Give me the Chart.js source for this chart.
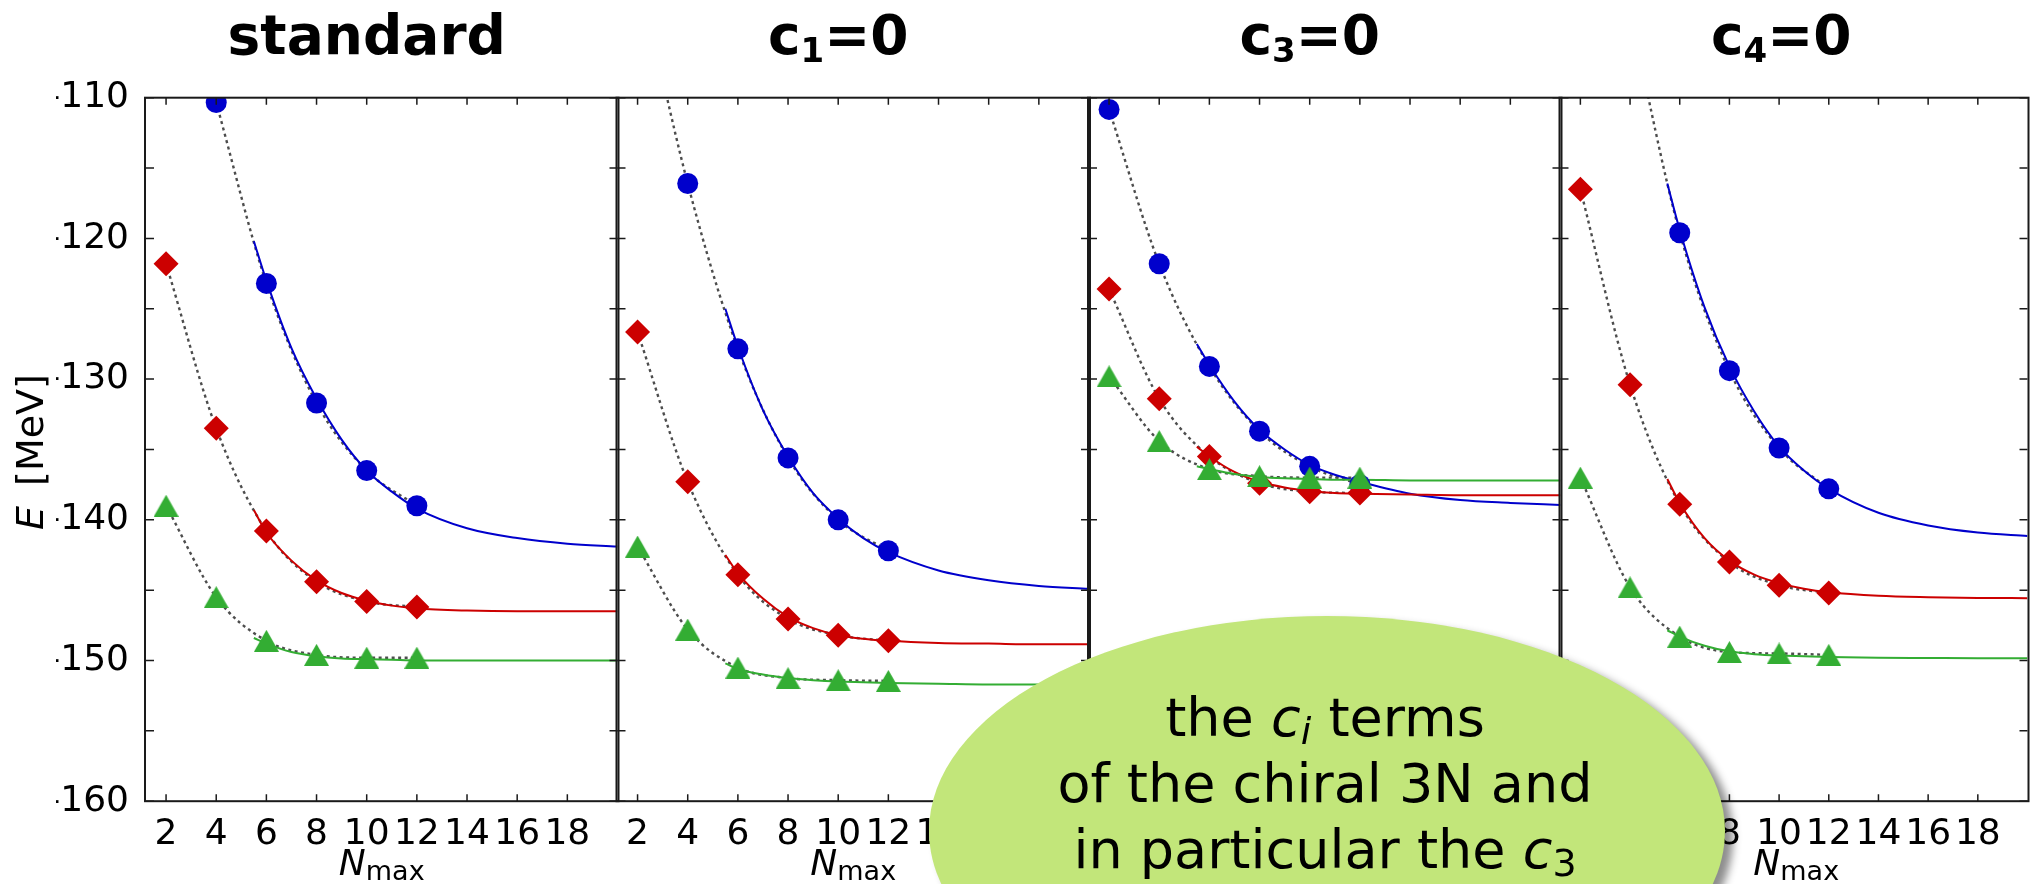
<!DOCTYPE html>
<html>
<head>
<meta charset="utf-8">
<script src="https://cdn.jsdelivr.net/npm/chart.js@4.4.1/dist/chart.umd.min.js"></script>
<style>
  html, body { margin: 0; padding: 0; background: #fff; overflow: hidden; }
  #fig { position: relative; width: 2040px; height: 884px; overflow: hidden; background: #fff;
         font-family: 'DejaVu Sans', sans-serif; color: #000; }
  #fig canvas { position: absolute; left: 0; top: 0; }
  .title { position: absolute; top: 7.5px; width: 400px; text-align: center; font-weight: bold;
           font-size: 55px; line-height: 55px; white-space: nowrap; }
  .title sub { font-size: 34px; vertical-align: -8px; line-height: 0; }
  .xlabel { position: absolute; top: 844.5px; width: 200px; text-align: center; font-size: 36px;
            line-height: 36px; white-space: nowrap; }
  .xlabel sub { font-size: 27px; vertical-align: -5px; line-height: 0; }
  .ylabel { position: absolute; left: -70px; top: 433px; width: 200px; height: 38px; text-align: center;
            font-size: 38px; line-height: 38px; white-space: nowrap; transform: rotate(-90deg); }
  .bubble { position: absolute; left: 929px; top: 616px; width: 796px; height: 430px; border-radius: 50%;
            background: #c2e67a; box-shadow: 8px 6px 8px rgba(0,0,0,0.45); z-index: 5; }
  .bubble-text { position: absolute; left: 925px; width: 800px; top: 685.3px; text-align: center;
                 font-size: 54px; line-height: 66px; white-space: nowrap; z-index: 6; }
  .bubble-text sub { font-size: 38px; vertical-align: -8px; line-height: 0; }
</style>
</head>
<body>
<div id="fig">
  <canvas id="p0" width="2040" height="884"></canvas>
  <canvas id="p1" width="2040" height="884"></canvas>
  <canvas id="p2" width="2040" height="884"></canvas>
  <canvas id="p3" width="2040" height="884"></canvas>

  <div class="title" id="t0">standard</div>
  <div class="title" id="t1">c<sub>1</sub>=0</div>
  <div class="title" id="t2">c<sub>3</sub>=0</div>
  <div class="title" id="t3">c<sub>4</sub>=0</div>

  <div class="xlabel" id="x0"><i>N</i><sub>max</sub></div>
  <div class="xlabel" id="x1"><i>N</i><sub>max</sub></div>
  <div class="xlabel" id="x2"><i>N</i><sub>max</sub></div>
  <div class="xlabel" id="x3"><i>N</i><sub>max</sub></div>

  <div class="ylabel"><i>E</i><span style="margin-left:20px">[MeV]</span></div>

  <div class="bubble"></div>
  <div class="bubble-text">
    the <i>c</i><sub><i>i</i></sub> terms<br>
    of the chiral 3N and<br>
    in particular the <i>c</i><sub>3</sub>
  </div>
</div>

<script>
// model-space sizes of the calculations
const nmax = [2, 4, 6, 8, 10, 12];
// abscissae at which the extrapolation curves are sampled
const fitN = [5.5, 6, 7, 8, 9, 10, 11, 12, 14, 16, 18, 20];

// axis ticks
const xTicks = [2, 4, 6, 8, 10, 12, 14, 16, 18];
const yTicks = [-160, -155, -150, -145, -140, -135, -130, -125, -120, -115, -110];

// ---- standard ----
const stdBlue  = [null, -110.35, -123.2, -131.7, -136.5, -139.0];
const stdRed   = [-121.8, -133.5, -140.8, -144.4, -145.8, -146.2];
const stdGreen = [-139.0, -145.5, -148.6, -149.6, -149.8, -149.8];
const stdBlueFit  = [-120.2, -123.0, -127.8, -131.4, -134.3, -136.5, -138.0, -139.2, -140.6, -141.3, -141.7, -141.9];
const stdRedFit   = [-139.3, -140.9, -142.9, -144.3, -145.2, -145.75, -146.1, -146.3, -146.45, -146.5, -146.5, -146.5];
const stdGreenFit = [-148.4, -148.8, -149.4, -149.7, -149.85, -149.9, -149.95, -150.0, -150.0, -150.0, -150.0, -150.0];

// ---- c1 = 0 ----
const c1Blue  = [-100.7, -116.1, -127.85, -135.6, -140.0, -142.2];
const c1Red   = [-126.65, -137.3, -143.9, -147.05, -148.2, -148.6];
const c1Green = [-141.9, -147.8, -150.5, -151.25, -151.4, -151.45];
const c1BlueFit  = [-125.0, -127.7, -132.2, -135.5, -138.1, -139.9, -141.3, -142.3, -143.6, -144.3, -144.7, -144.9];
const c1RedFit   = [-142.5, -143.8, -145.6, -146.9, -147.7, -148.2, -148.45, -148.6, -148.75, -148.8, -148.85, -148.85];
const c1GreenFit = [-150.2, -150.6, -151.0, -151.25, -151.4, -151.5, -151.55, -151.6, -151.65, -151.7, -151.7, -151.7];

// ---- c3 = 0 ----
const c3Blue  = [-110.83, -121.8, -129.1, -133.7, -136.2, -137.5];
const c3Red   = [-123.6, -131.4, -135.5, -137.4, -138.0, -138.1];
const c3Green = [-129.8, -134.4, -136.4, -136.9, -137.0, -137.0];
const c3BlueFit  = [-127.5, -129.0, -131.6, -133.6, -135.0, -136.1, -136.8, -137.3, -138.15, -138.6, -138.8, -138.95];
const c3RedFit   = [-134.8, -135.5, -136.6, -137.3, -137.7, -137.95, -138.1, -138.15, -138.2, -138.25, -138.25, -138.25];
const c3GreenFit = [-136.2, -136.4, -136.75, -136.95, -137.05, -137.1, -137.15, -137.15, -137.2, -137.2, -137.2, -137.2];

// ---- c4 = 0 ----
const c4Blue  = [null, -104.0, -119.6, -129.4, -134.9, -137.8];
const c4Red   = [-116.5, -130.4, -138.9, -143.0, -144.65, -145.2];
const c4Green = [-137.0, -144.8, -148.3, -149.4, -149.5, -149.6];
const c4BlueFit  = [-116.1, -119.4, -124.9, -129.1, -132.3, -134.8, -136.5, -137.8, -139.5, -140.4, -140.9, -141.15];
const c4RedFit   = [-137.1, -138.8, -141.3, -142.9, -143.9, -144.5, -144.9, -145.15, -145.4, -145.5, -145.55, -145.57];
const c4GreenFit = [-147.85, -148.3, -148.95, -149.35, -149.55, -149.65, -149.7, -149.75, -149.8, -149.82, -149.84, -149.84];

// ---------------------------------------------------------------
const BLUE = '#0000cc', RED = '#cc0000', GREEN = '#33ad33', DOTS = '#4d4d4d';

// layout of the four frames (pixels)
const FIRST_LEFT = 146, PANEL_W = 471.5, PLOT_TOP = 97.7, PLOT_BOTTOM = 801.2;
const Y_AXIS_W = 90, X_AXIS_H = 80;

Chart.defaults.font.family = "'DejaVu Sans', sans-serif";
Chart.defaults.color = '#000';

function triangleMarker(color, w, h) {
  const c = document.createElement('canvas');
  c.width = w; c.height = h;
  const g = c.getContext('2d');
  g.fillStyle = color;
  g.beginPath();
  g.moveTo(w / 2, 0);
  g.lineTo(w, h);
  g.lineTo(0, h);
  g.closePath();
  g.fill();
  return c;
}
const triangle = triangleMarker(GREEN, 25, 22);

function pairs(xs, ys) {
  return xs.map((x, k) => ({ x: x, y: ys[k] })).filter(p => p.y !== null);
}

// frame with inward ticks on all four sides
const framePlugin = {
  id: 'frame',
  afterDatasetsDraw(chart) {
    const { ctx, chartArea: a } = chart;
    const xs = chart.scales.x, ys = chart.scales.y;
    ctx.save();
    ctx.strokeStyle = '#1a1a1a';
    ctx.lineWidth = 1.5;
    ctx.beginPath();
    for (const v of xTicks) {
      const px = xs.getPixelForValue(v);
      ctx.moveTo(px, a.top); ctx.lineTo(px, a.top + 7);
      ctx.moveTo(px, a.bottom); ctx.lineTo(px, a.bottom - 7);
    }
    for (const v of yTicks) {
      const py = ys.getPixelForValue(v);
      ctx.moveTo(a.left, py); ctx.lineTo(a.left + 8, py);
      ctx.moveTo(a.right, py); ctx.lineTo(a.right - 8, py);
    }
    ctx.stroke();
    ctx.lineWidth = 2;
    ctx.strokeRect(a.left - 1, a.top, a.right - a.left + 2, a.bottom - a.top);
    ctx.restore();
  }
};

const panels = [
  [stdBlue, stdRed, stdGreen, stdBlueFit, stdRedFit, stdGreenFit],
  [c1Blue, c1Red, c1Green, c1BlueFit, c1RedFit, c1GreenFit],
  [c3Blue, c3Red, c3Green, c3BlueFit, c3RedFit, c3GreenFit],
  [c4Blue, c4Red, c4Green, c4BlueFit, c4RedFit, c4GreenFit]
];

const seriesStyle = [
  { color: BLUE,  pointStyle: 'circle',  radius: 10.5 },
  { color: RED,   pointStyle: 'rectRot', radius: 12.5 },
  { color: GREEN, pointStyle: triangle,  radius: 12 }
];

panels.forEach((p, i) => {
  const left = FIRST_LEFT + i * PANEL_W;
  const right = left + PANEL_W;
  const withYAxis = i === 0;
  const datasets = [];
  for (let k = 0; k < 3; k++) {
    const st = seriesStyle[k];
    const pts = pairs(nmax, p[k]);
    const fit = pairs(fitN, p[k + 3]);
    // dotted guide through the calculated points
    datasets.push({
      data: pts, order: 30 - k,
      borderColor: DOTS, borderWidth: 2.4, borderDash: [3, 3.5],
      pointRadius: 0, cubicInterpolationMode: 'monotone', fill: false
    });
    // extrapolation curve
    datasets.push({
      data: fit, order: 20 - k,
      borderColor: st.color, borderWidth: 2,
      pointRadius: 0, cubicInterpolationMode: 'monotone', fill: false
    });
    // markers
    datasets.push({
      data: pts, order: 10 - k, showLine: false, clip: 0,
      pointStyle: st.pointStyle, pointRadius: st.radius,
      pointBackgroundColor: st.color, pointBorderColor: st.color, pointBorderWidth: 0
    });
  }

  new Chart(document.getElementById('p' + i), {
    type: 'line',
    data: { datasets },
    options: {
      responsive: false, animation: false, events: [],
      layout: {
        padding: {
          left: withYAxis ? left - Y_AXIS_W : left,
          right: 2040 - right,
          top: PLOT_TOP,
          bottom: 884 - PLOT_BOTTOM - X_AXIS_H
        }
      },
      plugins: { legend: { display: false }, tooltip: { enabled: false }, title: { display: false } },
      scales: {
        x: {
          type: 'linear', min: 1.2, max: 20,
          grid: { display: false }, border: { display: false },
          afterBuildTicks: s => { s.ticks = xTicks.map(v => ({ value: v })); },
          afterFit: s => { s.height = X_AXIS_H; },
          ticks: { font: { size: 36 }, color: '#000', padding: 4, maxRotation: 0, autoSkip: false,
                   callback: v => String(v) }
        },
        y: {
          type: 'linear', min: -160, max: -110, display: withYAxis,
          grid: { display: false }, border: { display: false },
          afterBuildTicks: s => { s.ticks = yTicks.map(v => ({ value: v })); },
          afterFit: s => { s.width = withYAxis ? Y_AXIS_W : 0; },
          ticks: { font: { size: 36 }, color: '#000', padding: 9, autoSkip: false,
                   callback: v => (v % 10 === 0 ? String(v) : '') }
        }
      }
    },
    plugins: [framePlugin]
  });

  const center = left + PANEL_W / 2;
  document.getElementById('t' + i).style.left = (center - 15 - 200) + 'px';
  document.getElementById('x' + i).style.left = (center - 100) + 'px';
});
</script>
</body>
</html>
